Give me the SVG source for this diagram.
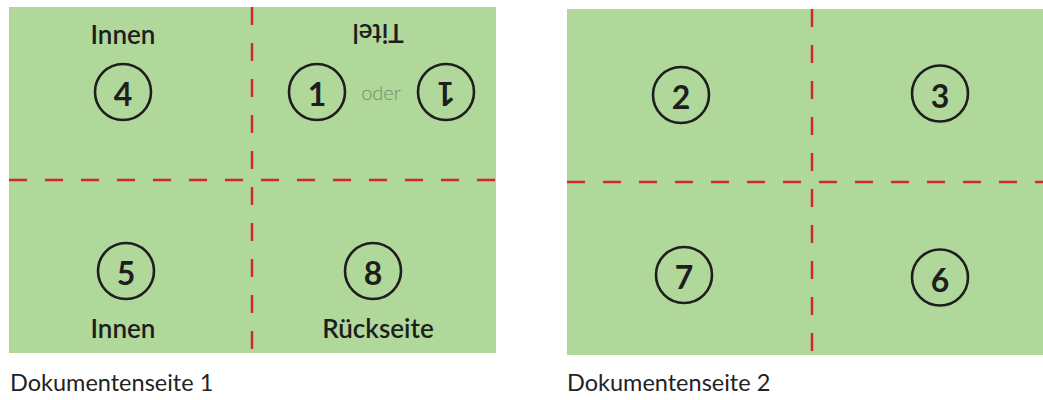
<svg xmlns="http://www.w3.org/2000/svg" width="1043" height="400" viewBox="0 0 1043 400">
<style>
.panel{fill:#b0d89b}
.fold{stroke:#d4262b;stroke-width:2.5;stroke-dasharray:18 18;fill:none}
.ring{fill:none;stroke:#1e1e1e;stroke-width:2.6}
.num{font-family:Lato,"Liberation Sans",sans-serif;font-weight:700;font-size:32px;fill:#1e1e1e;text-anchor:middle}
.lbl{font-family:Lato,"Liberation Sans",sans-serif;font-weight:600;font-size:26px;fill:#1e1e1e;text-anchor:middle}
.oder{font-family:Lato,"Liberation Sans",sans-serif;font-weight:300;font-size:20px;fill:#6f8f64;text-anchor:middle}
.cap{font-family:Lato,"Liberation Sans",sans-serif;font-size:23.5px;fill:#222}
</style>
<g id="page1">
<rect class="panel" x="9" y="7" width="487" height="346"/>
<g id="n4"><text class="lbl" x="123" y="44">Innen</text><circle class="ring" cx="123" cy="92" r="28"/><text class="num" x="123" y="106">4</text></g>
<g id="n1"><text class="lbl" x="378" y="42" transform="rotate(180 378 33)">Titel</text><circle class="ring" cx="317" cy="92" r="28"/><text class="num" x="317" y="106">1</text><text class="oder" x="381" y="100">oder</text><circle class="ring" cx="446" cy="92" r="28"/><text class="num" x="446" y="106" transform="rotate(180 446 94)">1</text></g>
<g id="n5"><circle class="ring" cx="126" cy="271" r="28"/><text class="num" x="126" y="285">5</text><text class="lbl" x="123" y="338">Innen</text></g>
<g id="n8"><circle class="ring" cx="373" cy="271" r="28"/><text class="num" x="373" y="285">8</text><text class="lbl" x="378" y="338">Rückseite</text></g>
<text class="cap" x="10" y="391">Dokumentenseite 1</text>
</g>
<g id="page2">
<rect class="panel" x="567" y="9" width="476" height="346"/>
<g id="n2"><circle class="ring" cx="681" cy="95" r="28"/><text class="num" x="681" y="109">2</text></g>
<g id="n3"><circle class="ring" cx="940" cy="93.5" r="28"/><text class="num" x="940" y="107.5">3</text></g>
<g id="n7"><circle class="ring" cx="684" cy="275" r="28"/><text class="num" x="684" y="289">7</text></g>
<g id="n6"><circle class="ring" cx="940" cy="277.5" r="28"/><text class="num" x="940" y="291.5">6</text></g>
<text class="cap" x="567" y="391">Dokumentenseite 2</text>
</g>
<g id="connectors">
<line class="fold" x1="9" y1="180" x2="496" y2="180"/>
<line class="fold" x1="252" y1="7" x2="252" y2="353"/>
<line class="fold" x1="567" y1="182" x2="1043" y2="182"/>
<line class="fold" x1="812" y1="9" x2="812" y2="355"/>
</g>
</svg>
